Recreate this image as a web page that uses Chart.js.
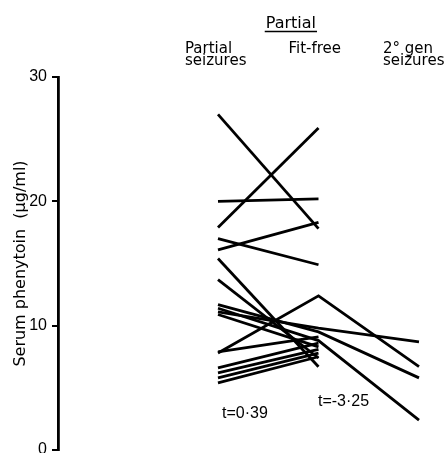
<!DOCTYPE html>
<html>
<head>
<meta charset="utf-8">
<script src="https://cdn.jsdelivr.net/npm/chart.js@4"></script>
<style>
  html, body { margin: 0; padding: 0; background: #fff; }
  #wrap { width: 444px; height: 453px; }
</style>
</head>
<body>
<div id="wrap"><canvas id="c" width="444" height="453"></canvas></div>
<script>
// Categories (x positions 0, 1, 2)
const categories = ['Partial seizures', 'Fit-free', '2° gen seizures'];
const categoryLines = [['Partial', 'seizures'], ['Fit-free'], ['2° gen', 'seizures']];
const groupTitle = 'Partial';
const yTicks = [0, 10, 20, 30];
const tValues = ['t=0·39', 't=-3·25'];

// Serum phenytoin (µg/ml) per patient
const partialSeizures = [27.0, 17.9, 20.0, 16.1, 17.0, 15.4, 13.7, 11.7, 11.4, 11.1, 10.9, 7.8, 7.9, 6.6, 6.2, 5.8, 5.4];
const fitFree         = [17.8, 25.9, 20.2, 18.3, 14.9, 6.7, 7.4, 9.5, 8.8, 9.8, 8.3, 12.4, 9.1, 8.6, 8.1, 7.8, 7.5];
const genSeizures     = [null, null, null, null, null, null, null, 5.8, 2.4, 8.7, null, 6.7, null, null, null, null, null];

const datasets = partialSeizures.map((p, i) => {
  const pts = [{x: 0, y: p}, {x: 1, y: fitFree[i]}];
  if (genSeizures[i] !== null) pts.push({x: 2, y: genSeizures[i]});
  return {
    data: pts,
    borderColor: '#000',
    borderWidth: 2.8,
    pointRadius: 0,
    fill: false,
    tension: 0
  };
});

const textPlugin = {
  id: 'texts',
  afterDraw(chart) {
    const ctx = chart.ctx;
    const xs = chart.scales.x;
    ctx.save();
    ctx.fillStyle = '#000';
    ctx.textBaseline = 'alphabetic';
    ctx.textAlign = 'left';
    // group header with underline
    ctx.font = '16px "DejaVu Sans"';
    const hx = xs.getPixelForValue(0.475);
    const hw = ctx.measureText(groupTitle).width;
    ctx.fillText(groupTitle, hx, 27.5);
    ctx.strokeStyle = '#000';
    ctx.lineWidth = 1.4;
    ctx.beginPath();
    ctx.moveTo(hx - 1, 31.5);
    ctx.lineTo(hx + hw + 1, 31.5);
    ctx.stroke();
    // category labels
    ctx.font = '15px "DejaVu Sans"';
    const offsets = [-33, -30, -36];
    categoryLines.forEach((lines, i) => {
      const x = xs.getPixelForValue(i) + offsets[i];
      lines.forEach((ln, j) => ctx.fillText(ln, x, 52.5 + j * 12.5));
    });
    // t values
    ctx.font = '16px "Liberation Sans"';
    ctx.fillText(tValues[0], xs.getPixelForValue(0.04), 418);
    ctx.fillText(tValues[1], xs.getPixelForValue(0.995), 406);
    ctx.restore();
  }
};

new Chart(document.getElementById('c'), {
  type: 'line',
  data: { datasets },
  options: {
    responsive: false,
    animation: false,
    devicePixelRatio: 1,
    layout: { padding: { top: 77, bottom: 3, left: 0, right: 4 } },
    plugins: { legend: { display: false }, tooltip: { enabled: false }, title: { display: false } },
    scales: {
      x: {
        type: 'linear',
        display: false,
        min: -1.592,
        max: 2.209
      },
      y: {
        type: 'linear',
        min: 0,
        max: 30,
        afterBuildTicks(s) { s.ticks = yTicks.map(v => ({ value: v })); },
        afterFit(s) { s.width = 58; s.paddingTop = 0; s.paddingBottom = 0; },
        grid: { display: true, drawOnChartArea: false, drawTicks: true, tickLength: 6, color: '#000', lineWidth: 2 },
        border: { display: true, color: '#000', width: 2.8 },
        ticks: { color: '#000', font: { family: 'Liberation Sans', size: 16 }, padding: 5 },
        title: {
          display: true,
          text: 'Serum phenytoin  (μg/ml)',
          color: '#000',
          font: { family: 'DejaVu Sans', size: 16 },
          padding: { top: 11, bottom: 0 }
        }
      }
    }
  },
  plugins: [textPlugin]
});
</script>
</body>
</html>
